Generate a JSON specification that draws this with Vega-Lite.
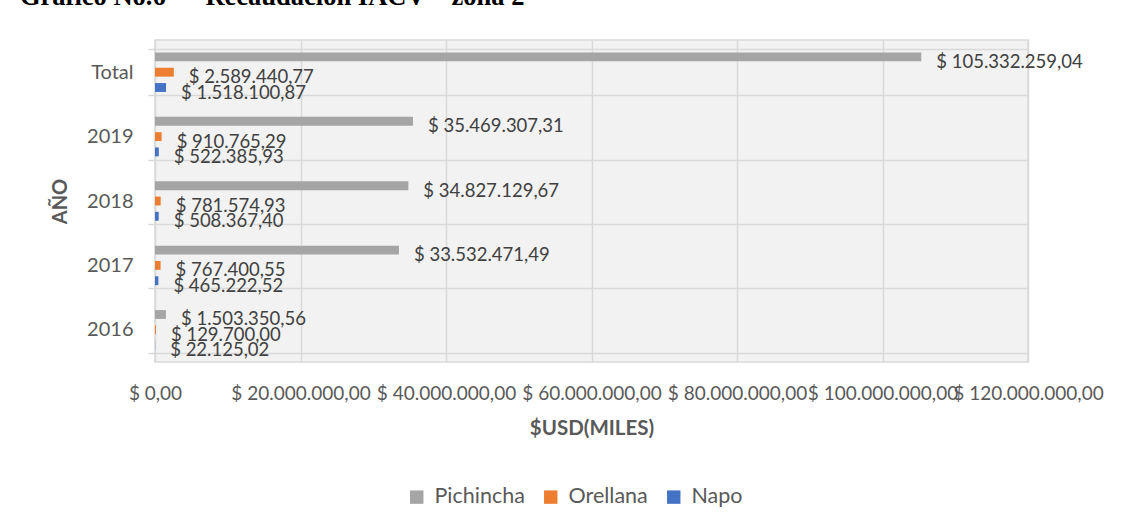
{
  "$schema": "https://vega.github.io/schema/vega-lite/v6.json",
  "autosize": {"type": "none"},
  "padding": {"left": 155, "top": 40, "right": 93, "bottom": 165},
  "width": 873,
  "height": 322,
  "background": "white",
  "title": {
    "text": "Gráfico No.6\u00a0\u00a0\u00a0\u00a0\u00a0\u00a0Recaudación IACV – zona 2",
    "anchor": "start",
    "frame": "group",
    "orient": "top",
    "baseline": "alphabetic",
    "offset": -1,
    "dx": -135,
    "font": "Liberation Serif",
    "fontSize": 26.5,
    "fontWeight": "bold",
    "color": "black"
  },
  "config": {
    "locale": {"number": {"decimal": ",", "thousands": ".", "grouping": [3], "currency": ["$ ", ""]}},
    "view": {"fill": "#f2f2f2", "stroke": "#d9d9d9", "strokeWidth": 1.5},
    "font": "Lato"
  },
  "data": {
    "values": [
      {"anio": "Total", "provincia": "Pichincha", "valor": 105332259.04},
      {"anio": "Total", "provincia": "Orellana", "valor": 2589440.77},
      {"anio": "Total", "provincia": "Napo", "valor": 1518100.87},
      {"anio": "2019", "provincia": "Pichincha", "valor": 35469307.31},
      {"anio": "2019", "provincia": "Orellana", "valor": 910765.29},
      {"anio": "2019", "provincia": "Napo", "valor": 522385.93},
      {"anio": "2018", "provincia": "Pichincha", "valor": 34827129.67},
      {"anio": "2018", "provincia": "Orellana", "valor": 781574.93},
      {"anio": "2018", "provincia": "Napo", "valor": 508367.40},
      {"anio": "2017", "provincia": "Pichincha", "valor": 33532471.49},
      {"anio": "2017", "provincia": "Orellana", "valor": 767400.55},
      {"anio": "2017", "provincia": "Napo", "valor": 465222.52},
      {"anio": "2016", "provincia": "Pichincha", "valor": 1503350.56},
      {"anio": "2016", "provincia": "Orellana", "valor": 129700.00},
      {"anio": "2016", "provincia": "Napo", "valor": 22125.02}
    ]
  },
  "encoding": {
    "y": {
      "field": "anio",
      "type": "nominal",
      "sort": ["Total", "2019", "2018", "2017", "2016"],
      "scale": {"paddingInner": 0.287, "paddingOuter": 0.1435},
      "axis": {
        "title": "AÑO",
        "titleFont": "Lato",
        "titleFontSize": 20,
        "titleFontWeight": "bold",
        "titleColor": "#595959",
        "titleX": -95,
        "titleY": 161,
        "titleAngle": -90,
        "titleBaseline": "middle",
        "titleAlign": "center",
        "labelFont": "Lato",
        "labelFontSize": 20,
        "labelColor": "#595959",
        "labelPadding": 15,
        "tickBand": "extent",
        "tickSize": 7,
        "tickColor": "#d9d9d9",
        "tickWidth": 1.5,
        "grid": true,
        "gridColor": "#d9d9d9",
        "gridWidth": 1.5,
        "domain": false
      }
    },
    "yOffset": {
      "field": "provincia",
      "type": "nominal",
      "sort": ["Pichincha", "Orellana", "Napo"],
      "scale": {"paddingInner": 0.42, "paddingOuter": 0.21}
    },
    "x": {
      "field": "valor",
      "type": "quantitative",
      "scale": {"domain": [0, 120000000], "nice": false},
      "axis": {
        "title": "$USD(MILES)",
        "titleFont": "Lato",
        "titleFontSize": 20.5,
        "titleFontWeight": "bold",
        "titleColor": "#595959",
        "titleY": 66,
        "titleBaseline": "middle",
        "values": [0, 20000000, 40000000, 60000000, 80000000, 100000000, 120000000],
        "format": "$,.2f",
        "labelFont": "Lato",
        "labelFontSize": 19,
        "labelColor": "#595959",
        "labelPadding": 22,
        "labelOverlap": false,
        "labelFlush": false,
        "ticks": false,
        "domain": false,
        "grid": true,
        "gridColor": "#d9d9d9",
        "gridWidth": 1.5
      }
    }
  },
  "layer": [
    {
      "mark": {"type": "bar"},
      "encoding": {
        "color": {
          "field": "provincia",
          "type": "nominal",
          "scale": {"domain": ["Pichincha", "Orellana", "Napo"], "range": ["#a5a5a5", "#ed7d31", "#4472c4"]},
          "legend": {
            "orient": "none",
            "legendX": 251,
            "legendY": 446,
            "direction": "horizontal",
            "columns": 3,
            "title": null,
            "symbolType": "square",
            "symbolSize": 180,
            "symbolStrokeWidth": 0,
            "labelFont": "Lato",
            "labelFontSize": 21.5,
            "labelColor": "#595959",
            "labelOffset": 7,
            "columnPadding": 15
          }
        }
      }
    },
    {
      "mark": {"type": "text", "align": "left", "baseline": "middle", "dx": 15, "dy": 5, "fontSize": 18.5, "font": "Lato", "color": "#404040"},
      "encoding": {
        "text": {"field": "valor", "type": "quantitative", "format": "$,.2f"}
      }
    }
  ]
}
